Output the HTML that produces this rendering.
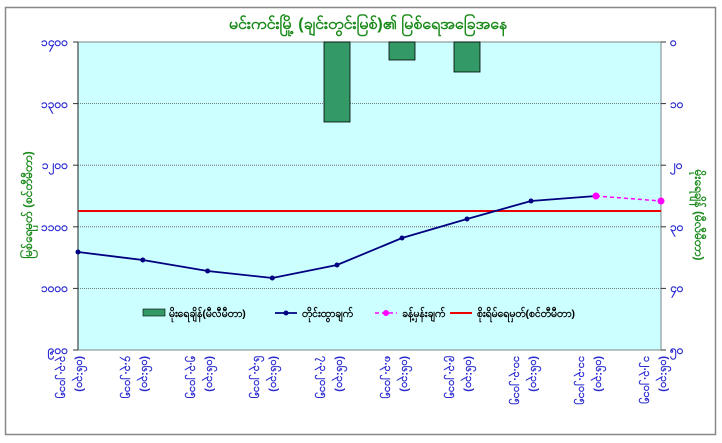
<!DOCTYPE html>
<html><head><meta charset="utf-8"><style>
html,body{margin:0;padding:0;background:#fff}
svg{display:block;font-family:"Liberation Sans","Noto Sans CJK SC",sans-serif}
</style></head><body>
<svg width="722" height="443" viewBox="0 0 722 443" xmlns="http://www.w3.org/2000/svg">
<rect x="5.5" y="7.5" width="710" height="427" fill="#fff" stroke="#888" stroke-width="1.5"/>
<text x="368" y="29" text-anchor="middle" font-size="16" font-weight="bold" fill="#1a8a1a">မင်းကင်းမြို့ (ချင်းတွင်းမြစ်)၏ မြစ်ရေအခြေအနေ</text>
<rect x="78" y="42" width="583" height="308" fill="#ccffff"/>
<g stroke="#555" stroke-width="0.8" stroke-dasharray="1,1">
<line x1="78" y1="103.6" x2="661" y2="103.6"/><line x1="78" y1="165.2" x2="661" y2="165.2"/>
<line x1="78" y1="226.8" x2="661" y2="226.8"/><line x1="78" y1="288.4" x2="661" y2="288.4"/>
</g>
<rect x="78" y="42" width="583" height="308" fill="none" stroke="#8a9a9a" stroke-width="1.2"/>
<line x1="78" y1="42" x2="78" y2="350" stroke="#333" stroke-width="1"/>
<g stroke="#333" stroke-width="1">
<line x1="73" y1="42" x2="78" y2="42"/><line x1="73" y1="103.6" x2="78" y2="103.6"/><line x1="73" y1="165.2" x2="78" y2="165.2"/><line x1="73" y1="226.8" x2="78" y2="226.8"/><line x1="73" y1="288.4" x2="78" y2="288.4"/><line x1="73" y1="350" x2="78" y2="350"/>
<line x1="661" y1="42" x2="666" y2="42"/><line x1="661" y1="103.6" x2="666" y2="103.6"/><line x1="661" y1="165.2" x2="666" y2="165.2"/><line x1="661" y1="226.8" x2="666" y2="226.8"/><line x1="661" y1="288.4" x2="666" y2="288.4"/><line x1="661" y1="350" x2="666" y2="350"/>
</g>
<g fill="#2a2ad0" font-size="12" font-weight="bold" text-anchor="end">
<text x="68" y="46">၁၄၀၀</text><text x="68" y="108">၁၃၀၀</text><text x="68" y="169">၁၂၀၀</text><text x="68" y="231">၁၁၀၀</text><text x="68" y="292">၁၀၀၀</text><text x="68" y="354">၉၀၀</text>
</g>
<g fill="#2a2ad0" font-size="12" font-weight="bold">
<text x="670" y="46">၀</text><text x="670" y="108">၁၀</text><text x="670" y="169">၂၀</text><text x="670" y="231">၃၀</text><text x="670" y="292">၄၀</text><text x="670" y="354">၅၀</text>
</g>
<text transform="translate(32,205) rotate(-90)" text-anchor="middle" font-size="12" font-weight="bold" fill="#1a8a1a">မြစ်ရေမှတ် (စင်တီမီတာ)</text>
<text transform="translate(695,215) rotate(90)" text-anchor="middle" font-size="12" font-weight="bold" fill="#1a8a1a">မိုးရေချိန် (မီလီမီတာ)</text>
<g fill="#339966" stroke="#000" stroke-width="0.8">
<rect x="324" y="42" width="26" height="80"/><rect x="389" y="42" width="26" height="18"/><rect x="454" y="42" width="26" height="30"/>
</g>
<line x1="78" y1="211" x2="661" y2="211" stroke="#e00" stroke-width="2"/>
<polyline points="78,252 142.8,260 207.6,271 272.3,278 337,265 402,238 467,219 531,201 596,196" fill="none" stroke="#000080" stroke-width="1.8"/>
<g fill="#000080">
<circle cx="78" cy="252" r="2.5"/><circle cx="142.8" cy="260" r="2.5"/><circle cx="207.6" cy="271" r="2.5"/><circle cx="272.3" cy="278" r="2.5"/><circle cx="337" cy="265" r="2.5"/><circle cx="402" cy="238" r="2.5"/><circle cx="467" cy="219" r="2.5"/><circle cx="531" cy="201" r="2.5"/>
</g>
<line x1="596" y1="196" x2="661" y2="201" stroke="#ff00ff" stroke-width="1.5" stroke-dasharray="4,3"/>
<circle cx="596" cy="196" r="3.5" fill="#ff00ff"/><circle cx="661" cy="201" r="3.5" fill="#ff00ff"/>
<g font-size="10.5" font-weight="bold" fill="#000">
<rect x="143" y="309" width="22" height="7" fill="#339966" stroke="#000" stroke-width="0.6"/>
<text x="169" y="317">မိုးရေချိန်(မီလီမီတာ)</text>
<line x1="275" y1="313" x2="297" y2="313" stroke="#000080" stroke-width="1.8"/><circle cx="286" cy="313" r="2.5" fill="#000080"/>
<text x="302" y="317">တိုင်းထွာချက်</text>
<line x1="375" y1="313" x2="397" y2="313" stroke="#ff00ff" stroke-width="1.5" stroke-dasharray="4,3"/><circle cx="386" cy="313" r="3" fill="#ff00ff"/>
<text x="402" y="317">ခန့်မှန်းချက်</text>
<line x1="450" y1="313" x2="472" y2="313" stroke="#e00" stroke-width="2"/>
<text x="477" y="317">စိုးရိမ်ရေမှတ်(စင်တီမီတာ)</text>
</g>
<g fill="#2a2ad0" font-size="11" font-weight="bold">
<g transform="translate(60,356) rotate(90)"><text x="0" y="0">၃.၃.၂၀၁၅</text><text x="0" y="-17">(၀၆:၃၀)</text></g>
<g transform="translate(125,356) rotate(90)"><text x="0" y="0">၄.၃.၂၀၁၅</text><text x="0" y="-17">(၀၆:၃၀)</text></g>
<g transform="translate(190,356) rotate(90)"><text x="0" y="0">၅.၃.၂၀၁၅</text><text x="0" y="-17">(၀၆:၃၀)</text></g>
<g transform="translate(254,356) rotate(90)"><text x="0" y="0">၆.၃.၂၀၁၅</text><text x="0" y="-17">(၀၆:၃၀)</text></g>
<g transform="translate(320,356) rotate(90)"><text x="0" y="0">၇.၃.၂၀၁၅</text><text x="0" y="-17">(၀၆:၃၀)</text></g>
<g transform="translate(385,356) rotate(90)"><text x="0" y="0">၈.၃.၂၀၁၅</text><text x="0" y="-17">(၀၆:၃၀)</text></g>
<g transform="translate(449,356) rotate(90)"><text x="0" y="0">၉.၃.၂၀၁၅</text><text x="0" y="-17">(၀၆:၃၀)</text></g>
<g transform="translate(514,356) rotate(90)"><text x="0" y="0">၁၀.၃.၂၀၁၅</text><text x="0" y="-17">(၀၆:၃၀)</text></g>
<g transform="translate(579,356) rotate(90)"><text x="0" y="0">၁၁.၃.၂၀၁၅</text><text x="0" y="-17">(၀၆:၃၀)</text></g>
<g transform="translate(644,356) rotate(90)"><text x="0" y="0">၁၂.၃.၂၀၁၅</text><text x="0" y="-17">(၀၆:၃၀)</text></g>
</g>
</svg>
</body></html>
